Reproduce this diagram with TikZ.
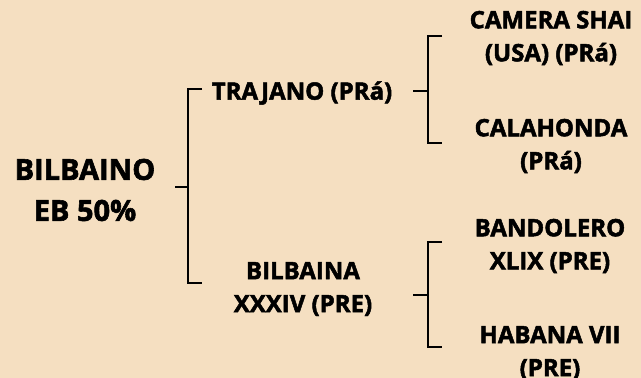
\documentclass[tikz,border=0pt]{standalone}
\usepackage{fontspec}
\setmainfont{Open Sans}[BoldFeatures={FakeBold=2}]
\usepackage{tikz}
\usepackage{xcolor}
\definecolor{paper}{RGB}{245,223,193}

\begin{document}
\begin{tikzpicture}[x=1pt,y=-1pt,
  line/.style={line width=2.4pt},
  horse/.style={font=\bfseries\fontsize{24}{33}\selectfont,align=center,inner sep=0pt},
  roothorse/.style={font=\bfseries\fontsize{29}{41}\selectfont,align=center,inner sep=0pt}]
\fill[paper] (0,0) rectangle (641,378);
\useasboundingbox (0,0) rectangle (641,378);
\node[roothorse] (root) at (85,190) {BILBAINO\\EB 50\%};
\node[horse] (trajano) at (302,93) {TRAJANO (PRá)};
\node[horse] (bilbaina) at (303,289) {BILBAINA\\XXXIV (PRE)};
\node[horse] (camera) at (551,38) {CAMERA SHAI\\(USA) (PRá)};
\node[horse] (calahonda) at (551,146) {CALAHONDA\\(PRá)};
\node[horse] (bandolero) at (550,246) {BANDOLERO\\XLIX (PRE)};
\node[horse] (habana) at (550,353) {HABANA VII\\(PRE)};
% first split
\coordinate (r1) at (188,187);
\draw[line] (r1) ++(-13,0) -- (r1);
\draw[line] (202,89) -| (r1) |- (202,283);
% second splits
\coordinate (t1) at (428,91);
\draw[line] (t1) ++(-15,0) -- (t1);
\draw[line] (442,36) -| (t1) |- (442,143);
\coordinate (b1) at (428,295);
\draw[line] (b1) ++(-15,0) -- (b1);
\draw[line] (442,242) -| (b1) |- (442,347);
\end{tikzpicture}
\end{document}
